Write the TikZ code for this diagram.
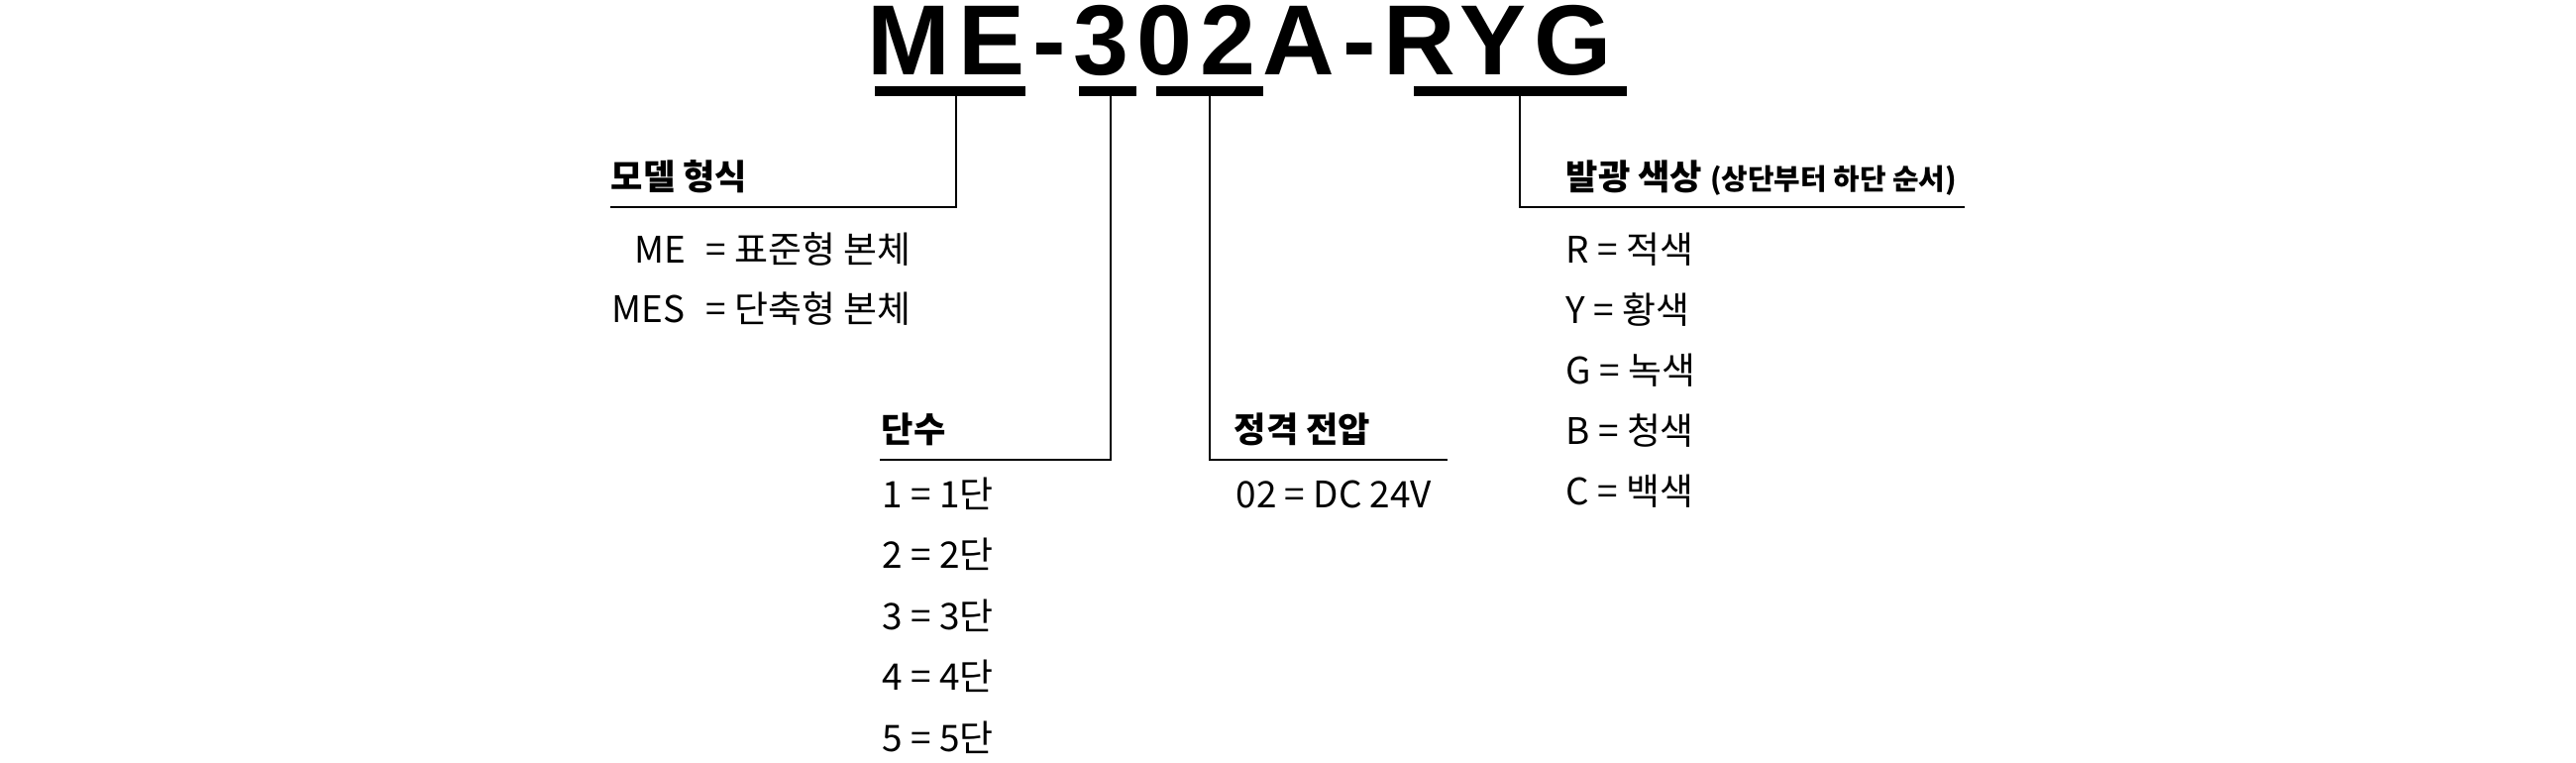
\documentclass[tikz,border=0pt]{standalone}
\usepackage{fontspec}
\setmainfont{Noto Sans CJK KR}
\newfontfamily\codefont[LetterSpace=7.8]{Liberation Sans}
\usepackage{tikz}
\usetikzlibrary{positioning,calc}

\begin{document}
\begin{tikzpicture}[x=0.01cm,y=-0.01cm,
	every node/.style={inner sep=0pt,anchor=base west},
	code/.style={font=\codefont\bfseries\fontsize{28.6}{30}\selectfont},
	head/.style={font=\bfseries\fontsize{10}{12}\selectfont},
	item/.style={font=\fontsize{10.5}{12}\selectfont},
	codebar/.style={draw,line width=0.1cm},
	leader/.style={draw,line width=0.6pt}]
	\useasboundingbox (0,0) rectangle (2600,770);
	% model code
	\node[code] (code) at (875,76) {ME-302A-RYG};
	\draw[codebar] (883,92) -- (1035,92);
	\draw[codebar] (1089,92) -- (1147,92);
	\draw[codebar] (1167,92) -- (1275,92);
	\draw[codebar] (1427,92) -- (1642,92);
	\coordinate (tap_me) at (965,96);
	\coordinate (tap_stage) at (1121,96);
	\coordinate (tap_volt) at (1221,96);
	\coordinate (tap_color) at (1534,96);
	% headings
	\node[head] (model_head) at (616,192) {모델 형식};
	\node[head] (stage_head) at (889,446) {단수};
	\node[head] (volt_head) at (1245,446) {정격 전압};
	\node[head] (color_head) at (1580,192) {발광 색상 {\fontsize{8.2}{10}\selectfont(상단부터 하단 순서)}};
	\coordinate (model_end) at (616,209);
	\coordinate (stage_end) at (888,464);
	\coordinate (volt_end) at (1461,464);
	\coordinate (color_end) at (1983,209);
	\draw[leader] (tap_me) |- (model_end);
	\draw[leader] (tap_stage) |- (stage_end);
	\draw[leader] (tap_volt) |- (volt_end);
	\draw[leader] (tap_color) |- (color_end);
	% entries
	\node[item] (me) at (640,265) {ME};
	\node[item] (me_text) at (712,265) {= 표준형 본체};
	\node[item] (mes) at (617,325) {MES};
	\node[item] (mes_text) at (712,325) {= 단축형 본체};
	\foreach \s in {1,...,5}
		\node[item] (stage\s) at (890,{512+61.5*(\s-1)}) {\s{} = \s{}단};
	\node[item] (volt02) at (1247,512) {02 = DC 24V};
	\foreach \c/\k [count=\i] in {R/적색,Y/황색,G/녹색,B/청색,C/백색}
		\node[item] (color\c) at (1580,{265+61.2*(\i-1)}) {\c{} = \k};
\end{tikzpicture}
\end{document}
